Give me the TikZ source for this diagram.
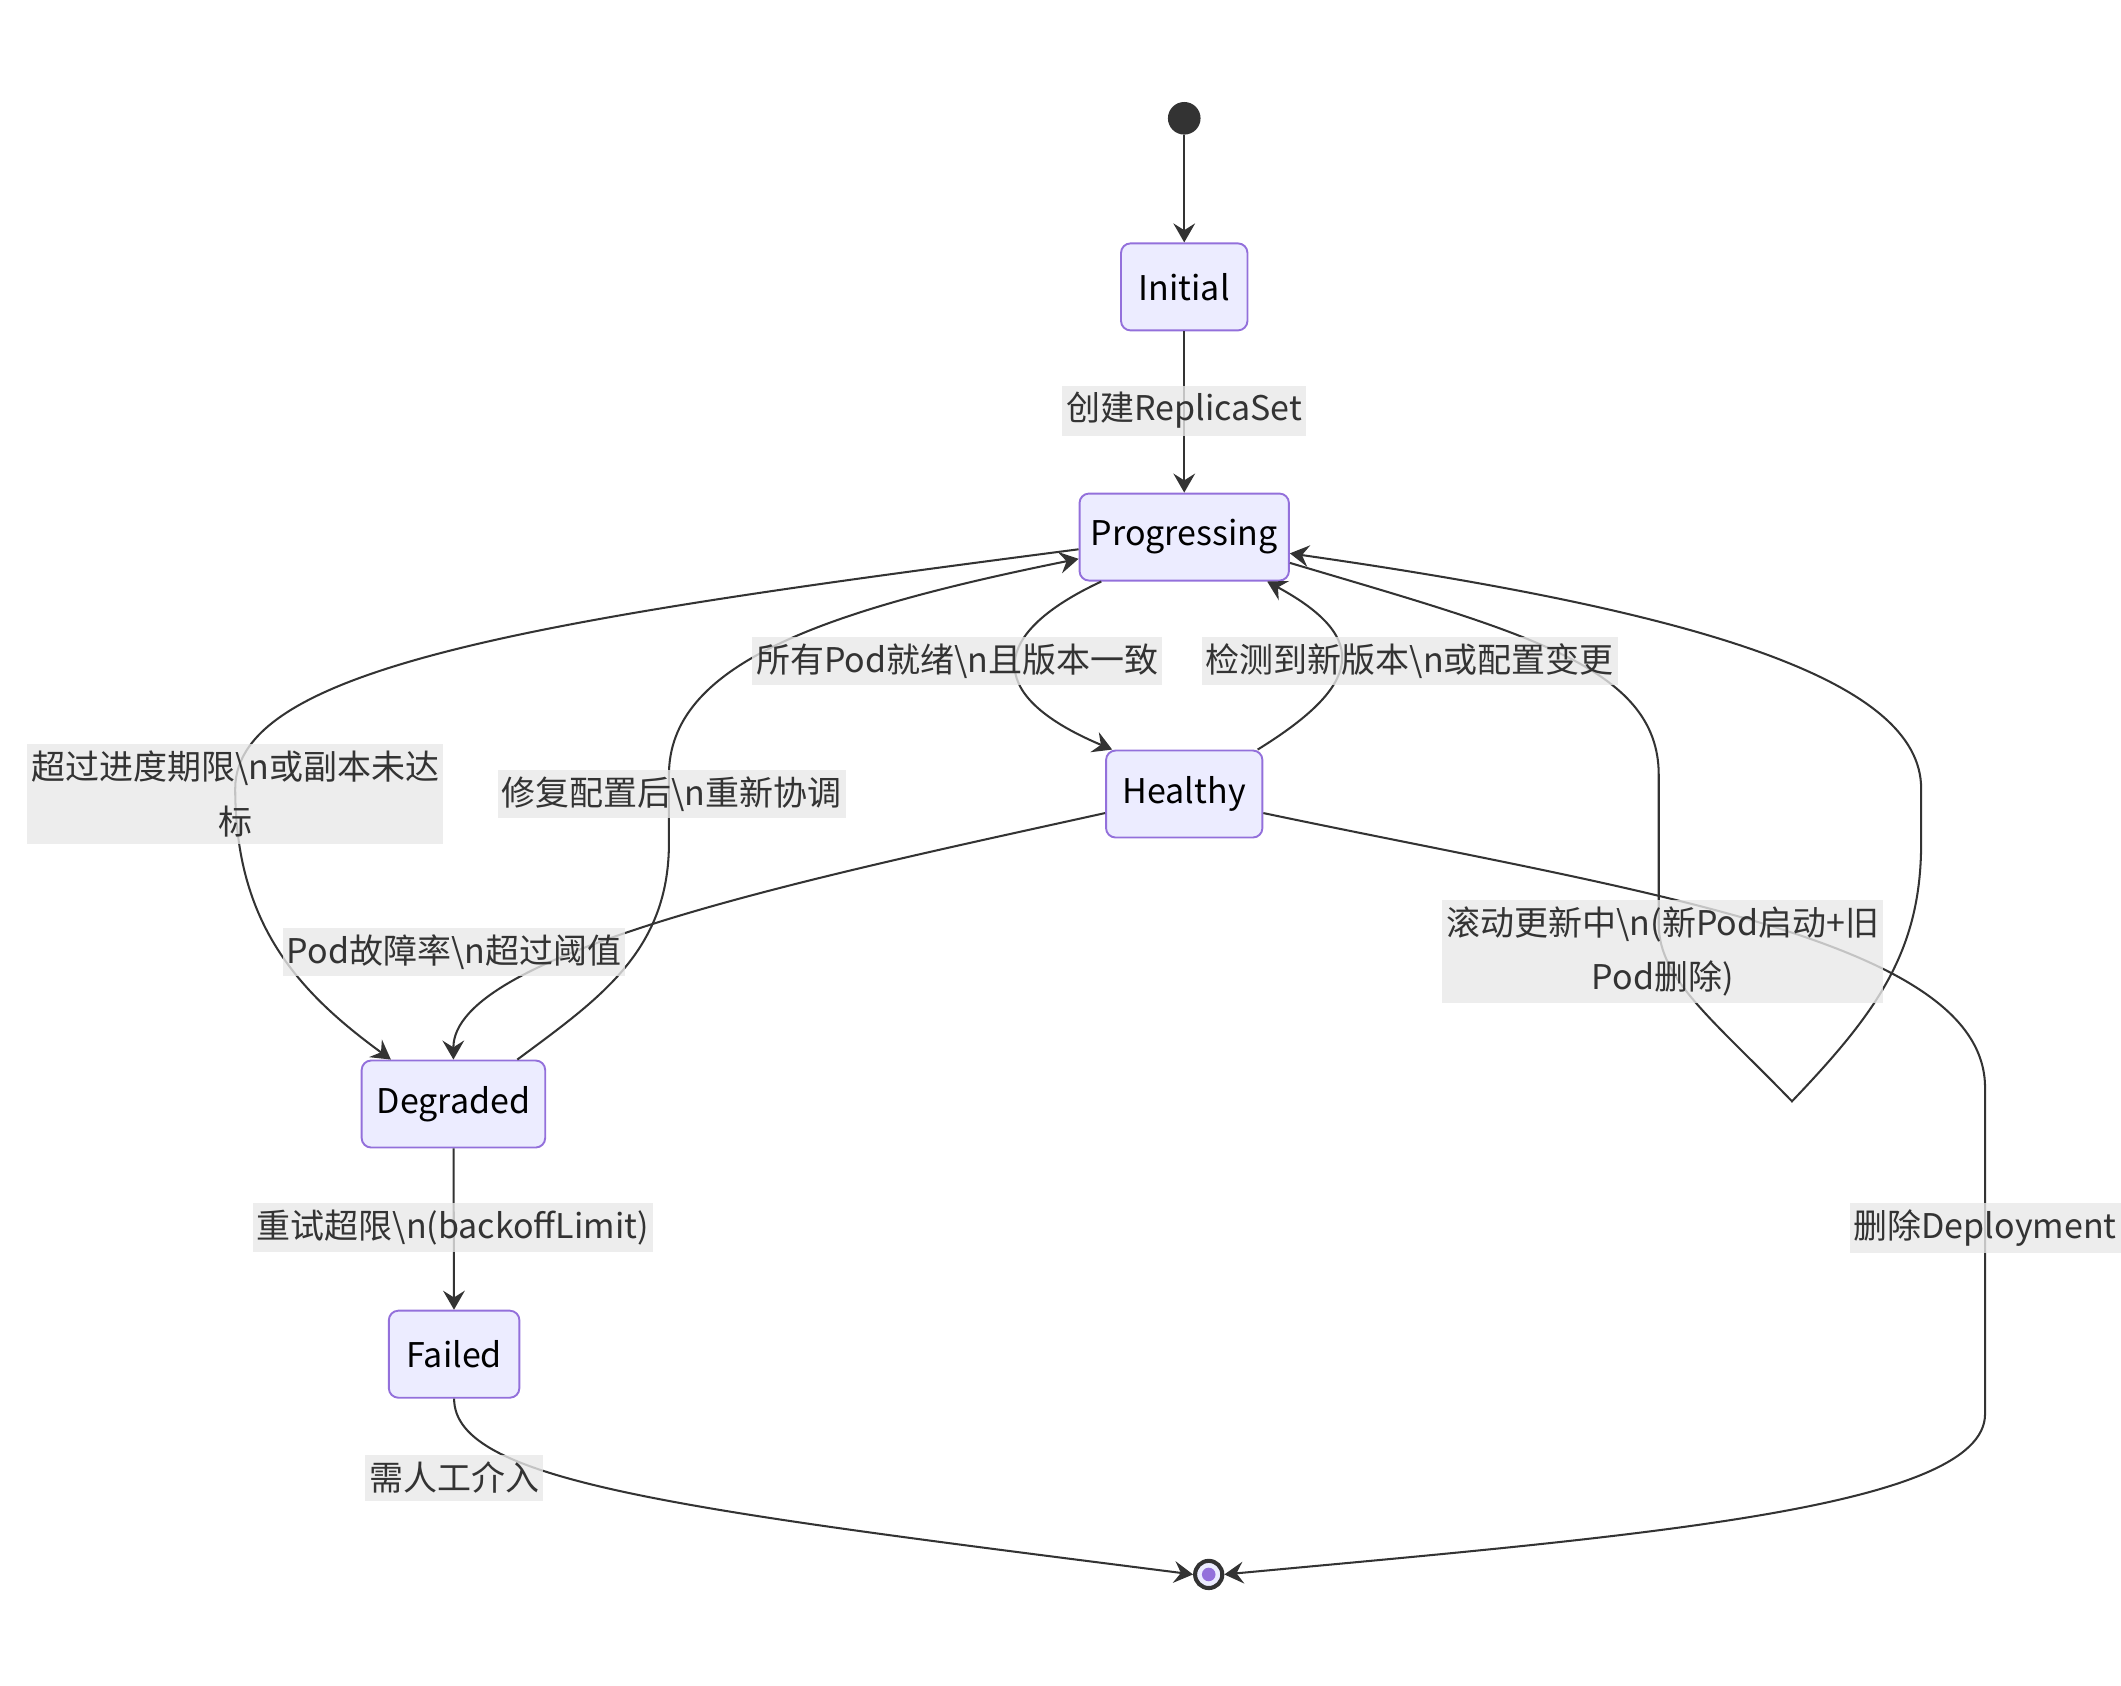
\documentclass[tikz,border=0pt]{standalone}
\usepackage{fontspec}
\setmainfont{Noto Sans CJK SC}
\usetikzlibrary{arrows.meta}
\definecolor{nodefill}{HTML}{ECECFF}
\definecolor{nodeborder}{HTML}{9370DB}
\definecolor{linec}{HTML}{333333}
\definecolor{labelbg}{HTML}{E8E8E8}
\begin{document}
\begin{tikzpicture}[x=1pt,y=-1pt, font=\fontsize{25}{40}\selectfont,
  state/.style={draw=nodeborder, fill=nodefill, line width=1.4pt, rounded corners=7pt, minimum height=64pt, inner sep=0pt, text=black},
  elabel/.style={fill=labelbg, fill opacity=0.8, text opacity=1, text=linec, inner xsep=3pt, inner ysep=5pt, align=center},
  tr/.style={draw=linec, line width=1.5pt, -{Stealth[length=14pt,width=16pt,inset=5pt]}}]
\useasboundingbox (0,0) rectangle (1560,1240);
% states
\node[circle, fill=linec, minimum size=24pt, inner sep=0pt] (start) at (871,87) {};
\node[state, minimum width=93pt] (init) at (871,211) {Initial};
\node[state, minimum width=154pt] (prog) at (871,395) {Progressing};
\node[state, minimum width=115pt] (healthy) at (871,584) {Healthy};
\node[state, minimum width=135pt] (degraded) at (333.5,812) {Degraded};
\node[state, minimum width=96pt] (failed) at (334,996) {Failed};
\node[circle, draw=linec, line width=3pt, fill=nodefill, minimum size=20pt, inner sep=0pt] (end) at (889,1158) {};
\node[circle, fill=nodeborder, minimum size=10pt, inner sep=0pt] (endin) at (end.center) {};
% transitions
\draw[tr] (start) -- (init);
\draw[tr] (init) -- (prog);
\draw[tr] (degraded) -- (failed);
\draw[tr] ([yshift=-9pt]prog.west) .. controls (400,455) and (173,490) .. (173,580) .. controls (173,680) and (220,730) .. ([xshift=-46pt]degraded.north);
\draw[tr] ([xshift=47pt]degraded.north) .. controls (440,735) and (492,700) .. (492,620) -- (492,570) .. controls (492,490) and (600,450) .. ([yshift=-16pt]prog.west);
\draw[tr] ([xshift=-61pt]prog.south) .. controls (730,465) and (720,510) .. ([xshift=-53pt]healthy.north);
\draw[tr] ([xshift=54pt]healthy.north) .. controls (1000,505) and (1010,470) .. ([xshift=61pt]prog.south);
\draw[tr] ([yshift=-14pt]healthy.west) .. controls (600,645) and (333,700) .. (degraded.north);
\draw[tr] ([yshift=-19pt]prog.east) .. controls (1120,465) and (1220,490) .. (1220,570) -- (1220,680) .. controls (1220,720) and (1260,750) .. (1318,810) .. controls (1380,745) and (1413,700) .. (1413,620) -- (1413,580) .. controls (1413,500) and (1250,450) .. ([yshift=-12pt]prog.east);
\draw[tr] ([yshift=-14pt]healthy.east) .. controls (1200,655) and (1460,690) .. (1460,800) -- (1460,1040) .. controls (1460,1110) and (1200,1130) .. (end.east);
\draw[tr] (failed.south) .. controls (334,1090) and (500,1110) .. (end.west);
% labels
\node[elabel] (l1) at (871,302) {创建ReplicaSet};
\node[elabel] (l2) at (173,584) {超过进度期限\textbackslash n或副本未达\\标};
\node[elabel] (l3) at (494,584) {修复配置后\textbackslash n重新协调};
\node[elabel] (l4) at (704,486) {所有Pod就绪\textbackslash n且版本一致};
\node[elabel] (l5) at (1037,486) {检测到新版本\textbackslash n或配置变更};
\node[elabel] (l6) at (334,700) {Pod故障率\textbackslash n超过阈值};
\node[elabel] (l7) at (1223,700) {滚动更新中\textbackslash n(新Pod启动+旧\\Pod删除)};
\node[elabel] (l8) at (333,903) {重试超限\textbackslash n(backoffLimit)};
\node[elabel] (l9) at (1460,903) {删除Deployment};
\node[elabel] (l10) at (334,1087) {需人工介入};
\end{tikzpicture}
\end{document}
